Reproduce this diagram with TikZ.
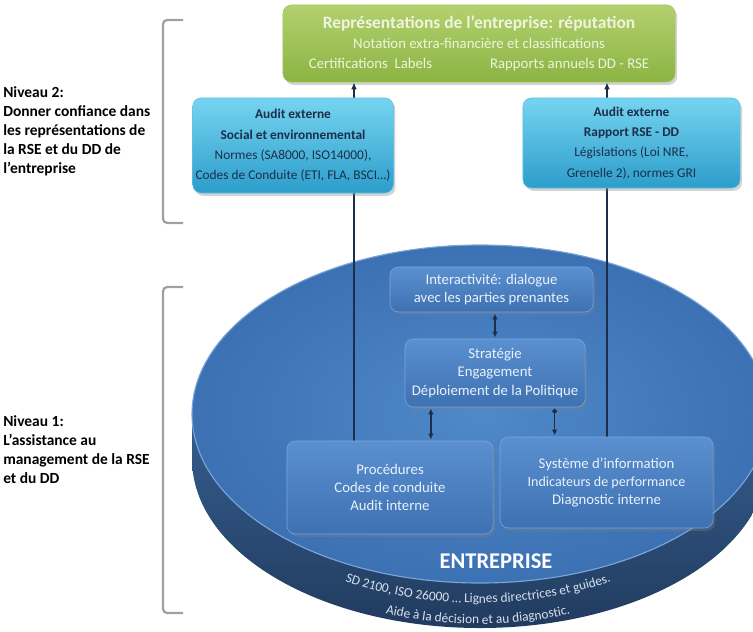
\documentclass[tikz,border=0pt]{standalone}
\usepackage{fontspec}
\setmainfont{Carlito}
\usetikzlibrary{arrows.meta,calc,shadows,decorations.text}

\definecolor{verdeA}{HTML}{B3D06E}
\definecolor{verdeB}{HTML}{8BB443}
\definecolor{verdeBorde}{HTML}{A6C860}
\definecolor{verdeTexto}{HTML}{EEF4DE}
\definecolor{cianA}{HTML}{76D4F0}
\definecolor{cianB}{HTML}{2C9DCB}
\definecolor{cianBorde}{HTML}{5CC2E6}
\definecolor{azulA}{HTML}{5B90D0}
\definecolor{azulB}{HTML}{3D71B2}
\definecolor{azulBorde}{HTML}{7AA6DA}
\definecolor{azulTexto}{HTML}{EAF1FB}
\definecolor{marino}{HTML}{1C2E4A}
\definecolor{discoA}{HTML}{4F89CA}
\definecolor{discoB}{HTML}{3C71B3}
\definecolor{lateralA}{HTML}{365E90}
\definecolor{lateralB}{HTML}{213B5E}
\definecolor{bandaTexto}{HTML}{D8E1EE}
\definecolor{gancho}{HTML}{A0A0A0}

\pgfdeclarelayer{disco}
\pgfdeclarelayer{lineas}
\pgfsetlayers{disco,lineas,main}

\tikzset{
  caja/.style={rounded corners=6pt, align=center, inner sep=2pt,
    drop shadow={opacity=.35, shadow xshift=1.5pt, shadow yshift=-2pt}},
  reputacion/.style={caja, top color=verdeA, bottom color=verdeB, draw=verdeBorde,
    text=verdeTexto, font=\fontsize{10.5}{14}\selectfont},
  audit/.style={caja, top color=cianA, bottom color=cianB, draw=cianBorde,
    text=marino, font=\fontsize{9.5}{14.5}\selectfont},
  interna/.style={caja, top color=azulA, bottom color=azulB, draw=azulBorde,
    text=azulTexto, font=\fontsize{10.5}{13}\selectfont},
  nivel/.style={anchor=north west, align=left, inner sep=0pt,
    font=\bfseries\fontsize{11}{13.5}\selectfont},
  llave/.style={draw=gancho, line width=1.6pt, rounded corners=3pt},
  conector/.style={draw=marino, line width=0.8pt, -{Latex[length=5pt,width=4pt]}},
  doble/.style={draw=marino, line width=1pt,
    {Latex[length=4pt,width=4pt]}-{Latex[length=4pt,width=4pt]},
    shorten >=1pt, shorten <=1pt},
}

\begin{document}
\begin{tikzpicture}[x=0.025cm, y=-0.025cm]
\useasboundingbox (0,0) rectangle (753,631);
\clip (0,0) rectangle (753,631);

% Disco de la empresa (lateral y cara superior)
\begin{pgfonlayer}{disco}
  \shade[top color=lateralA, bottom color=lateralB] (192,414) -- (192,459)
    arc[start angle=180, end angle=0, x radius=288, y radius=169] -- (768,414) -- cycle;
  \shade[inner color=discoA, outer color=discoB, draw=azulBorde, line width=.8pt]
    (480,414) ellipse [x radius=288, y radius=169];
\end{pgfonlayer}

% Llaves de los niveles
\draw[llave] (183,20) -- (163,20) -- (163,223) -- (183,223);
\draw[llave] (183,287) -- (163,287) -- (163,613) -- (183,613);

% Textos de los niveles
\node[nivel] (niv2) at (3,86) {Niveau 2:\\Donner confiance dans\\les représentations de\\la RSE et du DD de\\l’entreprise};
\node[nivel] (niv1) at (3,415) {Niveau 1:\\L’assistance au\\management de la RSE\\et du DD};

% Nivel 2: reputacion y auditorias externas
\node[reputacion, minimum width=9.8cm, minimum height=1.925cm] (reput) at (479,43.5)
  {{\bfseries\fontsize{12.4}{14}\selectfont Représentations de l’entreprise: réputation}\\
   Notation extra-financière et classifications\\
   Certifications~~Labels\hspace{1.45cm}Rapports annuels DD - RSE};
\node[audit, minimum width=4.25cm, minimum height=2.375cm] (audA) at (293,145.5)
  {\textbf{Audit externe}\\\textbf{Social et environnemental}\\Normes (SA8000, ISO14000),\\Codes de Conduite (ETI, FLA, BSCI…)};
\node[audit, minimum width=5.425cm, minimum height=2.25cm] (audB) at (631.5,143)
  {\textbf{Audit externe}\\\textbf{Rapport RSE - DD}\\Législations (Loi NRE,\\Grenelle 2), normes GRI};

% Nivel 1: cajas dentro del disco
\node[interna, minimum width=5.075cm, minimum height=1.125cm] (inter) at (491.5,289.5)
  {Interactivité: dialogue\\avec les parties prenantes};
\node[interna, minimum width=4.5cm, minimum height=1.7cm] (estr) at (495,373)
  {Stratégie\\Engagement\\Déploiement de la Politique};
\node[interna, minimum width=5.325cm, minimum height=2.275cm] (sist) at (606.5,482.5)
  {Système d’information\\{\fontsize{10}{13}\selectfont Indicateurs de performance}\\Diagnostic interne};
\node[interna, minimum width=5.15cm, minimum height=2.325cm] (proc) at (390,487.5)
  {Procédures\\Codes de conduite\\Audit interne};

\node[text=white, inner sep=0pt, font=\bfseries\fontsize{16}{18}\selectfont] (entr) at (496,561) {ENTREPRISE};

% Texto curvo sobre el lateral del disco
\path[decorate, decoration={text along path, text align=center,
  text={|\fontsize{9.5}{11}\selectfont\color{bandaTexto}|SD 2100, ISO 26000 … Lignes directrices et guides.}}]
  (228,461) arc[start angle=180, end angle=0, x radius=250, y radius=142];
\path[decorate, decoration={text along path, text align=center,
  text={|\fontsize{9.5}{11}\selectfont\color{bandaTexto}|Aide à la décision et au diagnostic.}}]
  (216,461) arc[start angle=180, end angle=0, x radius=262, y radius=163];

% Conectores hacia la reputacion (por detras de las auditorias)
\coordinate (ejeA) at (354,0);
\coordinate (ejeB) at (607,0);
\begin{pgfonlayer}{lineas}
  \draw[conector] (proc.north -| ejeA) -- (reput.south -| ejeA);
  \draw[conector] (sist.north -| ejeB) -- (reput.south -| ejeB);
\end{pgfonlayer}

% Flechas dobles entre las cajas internas
\coordinate (p1) at ($(estr.south west)!.145!(estr.south east)$);
\coordinate (p2) at ($(estr.south west)!.83!(estr.south east)$);
\draw[doble] (estr.north) -- (inter.south -| estr.north);
\draw[doble] (p1) -- (p1 |- proc.north);
\draw[doble, {Circle[length=3.5pt]}-{Latex[length=4pt,width=4pt]}] (p2) -- (p2 |- sist.north);
\end{tikzpicture}
\end{document}
